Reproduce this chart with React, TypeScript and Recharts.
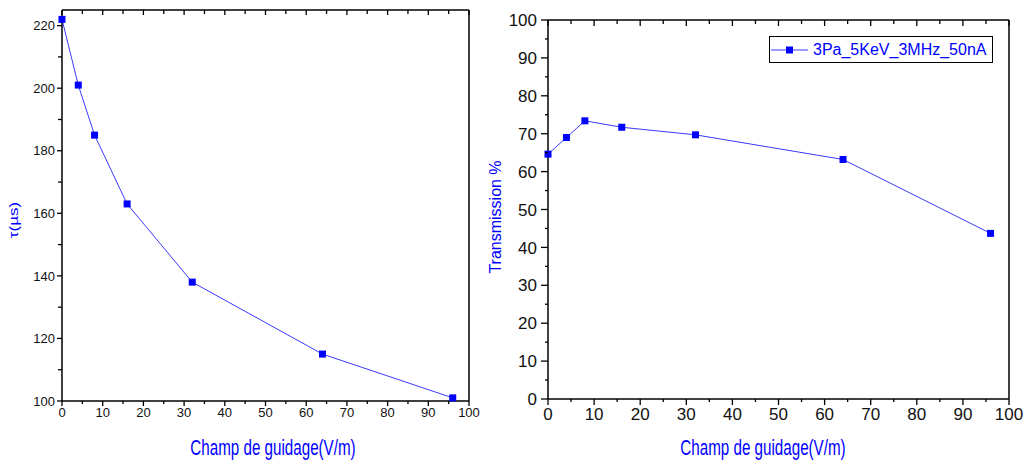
import React from "react";
import { LineChart, Line, XAxis, YAxis, Legend, Label } from "recharts";

// guiding field (V/m) and the two measured quantities
const fields = [0, 4, 8, 16, 32, 64, 96];
const tau = [222, 201, 185, 163, 138, 115, 101];
const transmission = [64.6, 69.0, 73.4, 71.7, 69.7, 63.2, 43.7];

const xMajor = [0, 10, 20, 30, 40, 50, 60, 70, 80, 90, 100];
const xTicks = [0, 5, 10, 15, 20, 25, 30, 35, 40, 45, 50, 55, 60, 65, 70, 75, 80, 85, 90, 95, 100];
const tauMajor = [100, 120, 140, 160, 180, 200, 220];
const tauTicks = [100, 110, 120, 130, 140, 150, 160, 170, 180, 190, 200, 210, 220];
const transMajor = [0, 10, 20, 30, 40, 50, 60, 70, 80, 90, 100];
const transTicks = [0, 5, 10, 15, 20, 25, 30, 35, 40, 45, 50, 55, 60, 65, 70, 75, 80, 85, 90, 95, 100];

const seriesName = "3Pa_5KeV_3MHz_50nA";

const data = fields.map((x, i) => ({ x, tau: tau[i], transmission: transmission[i] }));

const FONT = '"Liberation Sans", Arial, sans-serif';
const BLUE = "#0000ff";
const LINE_BLUE = "#3a3aff";

type Side = "bottom" | "left" | "top" | "right";

function makeTick(
  side: Side,
  majors: number[],
  majorLen: number,
  minorLen: number,
  fontSize = 13,
  gap = 2,
  show = false
) {
  return (props: any) => {
    const { x, y, payload } = props;
    const v = payload.value;
    const isMajor = majors.includes(v);
    const len = isMajor ? majorLen : minorLen;
    let x2 = x;
    let y2 = y;
    let label = null;
    if (side === "bottom") {
      y2 = y + len;
      if (show && isMajor)
        label = (
          <text x={x} y={y + majorLen + gap + fontSize * 0.72} textAnchor="middle" fontSize={fontSize} fill="#111" fontFamily={FONT}>
            {v}
          </text>
        );
    } else if (side === "left") {
      x2 = x - len;
      if (show && isMajor)
        label = (
          <text x={x - majorLen - gap} y={y + fontSize * 0.36} textAnchor="end" fontSize={fontSize} fill="#111" fontFamily={FONT}>
            {v}
          </text>
        );
    } else if (side === "top") {
      y2 = y + len; // inward
    } else {
      x2 = x - len; // inward
    }
    return (
      <g>
        <line x1={x} y1={y} x2={x2} y2={y2} stroke="#000" strokeWidth={1.3} />
        {label}
      </g>
    );
  };
}

const Square = (props: any) => {
  const { cx, cy, index } = props;
  if (cx == null || cy == null) return <g key={index} />;
  return <rect key={index} x={cx - 3.5} y={cy - 3.5} width={7} height={7} fill={BLUE} />;
};

const xTitle = (dx: number) => (props: any) => {
  const vb = props.viewBox || { x: 0, y: 0, width: 0, height: 0 };
  const cx = vb.x + vb.width / 2 + dx;
  const by = vb.y + vb.height - 9;
  return (
    <text
      transform={`translate(${cx},${by}) scale(0.69,1)`}
      textAnchor="middle"
      fontSize={22}
      fill={BLUE}
      fontFamily={FONT}
    >
      Champ de guidage(V/m)
    </text>
  );
};

const yTitle = (text: string, dx: number, dy: number, fontSize: number, squeeze: number) => (props: any) => {
  const vb = props.viewBox || { x: 0, y: 0, width: 0, height: 0 };
  const cx = vb.x + dx;
  const cy = vb.y + vb.height / 2 + dy;
  return (
    <text
      transform={`translate(${cx},${cy}) rotate(-90) scale(1,${squeeze})`}
      textAnchor="middle"
      dominantBaseline="central"
      fontSize={fontSize}
      fill={BLUE}
      fontFamily={FONT}
    >
      {text}
    </text>
  );
};

const LegendBox = () => (
  <div
    style={{
      border: "1px solid #000",
      background: "#fff",
      width: 222,
      height: 25,
      display: "flex",
      alignItems: "center",
      fontFamily: FONT,
      fontSize: 16,
      color: BLUE,
      boxSizing: "content-box",
    }}
  >
    <svg width={40} height={25} style={{ display: "block" }}>
      <line x1={1} y1={13} x2={38} y2={13} stroke={LINE_BLUE} strokeWidth={1.2} />
      <rect x={16} y={9.5} width={7} height={7} fill={BLUE} />
    </svg>
    <span style={{ marginLeft: 3, whiteSpace: "nowrap" }}>{seriesName}</span>
  </div>
);

const axisLine = { stroke: "#000", strokeWidth: 1.5 };

export default function App() {
  return (
    <div style={{ position: "absolute", left: 0, top: 0, width: 1024, height: 464, background: "#fff" }}>
      {/* left panel: tau vs field */}
      <div style={{ position: "absolute", left: 0, top: 0 }}>
        <LineChart width={512} height={464} data={data} margin={{ top: 9, right: 42, bottom: 0, left: 0 }}>
          <XAxis
            xAxisId="b"
            type="number"
            dataKey="x"
            domain={[0, 100]}
            ticks={xTicks}
            interval={0}
            height={63}
            tickSize={0}
            tickMargin={0}
            tickLine={false}
            axisLine={axisLine}
            tick={makeTick("bottom", xMajor, 5, 3, 13, 2, true)}
          >
            <Label content={xTitle(7.5)} />
          </XAxis>
          <XAxis
            xAxisId="t"
            orientation="top"
            type="number"
            dataKey="x"
            domain={[0, 100]}
            ticks={xTicks}
            interval={0}
            height={1}
            tickSize={0}
            tickMargin={0}
            tickLine={false}
            axisLine={axisLine}
            tick={makeTick("top", xMajor, 5, 4)}
          />
          <YAxis
            yAxisId="l"
            type="number"
            domain={[100, 225]}
            ticks={tauTicks}
            interval={0}
            width={62}
            tickSize={0}
            tickMargin={0}
            tickLine={false}
            axisLine={axisLine}
            tick={makeTick("left", tauMajor, 5, 4, 13, 2, true)}
          >
            <Label content={yTitle("τ(µs)", 14, 14.5, 17, 0.7)} />
          </YAxis>
          <YAxis
            yAxisId="r"
            orientation="right"
            type="number"
            domain={[100, 225]}
            ticks={tauTicks}
            interval={0}
            width={1}
            tickSize={0}
            tickMargin={0}
            tickLine={false}
            axisLine={axisLine}
            tick={makeTick("right", tauMajor, 5, 4)}
          />
          <Line
            xAxisId="b"
            yAxisId="l"
            type="linear"
            dataKey="tau"
            stroke={LINE_BLUE}
            strokeWidth={1}
            dot={Square}
            activeDot={false}
            isAnimationActive={false}
          />
        </LineChart>
      </div>

      {/* right panel: transmission vs field */}
      <div style={{ position: "absolute", left: 470, top: 0 }}>
        <LineChart width={554} height={464} data={data} margin={{ top: 19, right: 14, bottom: 0, left: 0 }}>
          <XAxis
            xAxisId="b"
            type="number"
            dataKey="x"
            domain={[0, 100]}
            ticks={xTicks}
            interval={0}
            height={65}
            tickSize={0}
            tickMargin={0}
            tickLine={false}
            axisLine={axisLine}
            tick={makeTick("bottom", xMajor, 6, 3, 17, 3, true)}
          >
            <Label content={xTitle(-15.5)} />
          </XAxis>
          <XAxis
            xAxisId="t"
            orientation="top"
            type="number"
            dataKey="x"
            domain={[0, 100]}
            ticks={xTicks}
            interval={0}
            height={1}
            tickSize={0}
            tickMargin={0}
            tickLine={false}
            axisLine={axisLine}
            tick={makeTick("top", xMajor, 6, 4)}
          />
          <YAxis
            yAxisId="l"
            type="number"
            domain={[0, 100]}
            ticks={transTicks}
            interval={0}
            width={78}
            tickSize={0}
            tickMargin={0}
            tickLine={false}
            axisLine={axisLine}
            tick={makeTick("left", transMajor, 7, 3, 17, 4, true)}
          >
            <Label content={yTitle("Transmission %", 25, 7.5, 16, 1)} />
          </YAxis>
          <YAxis
            yAxisId="r"
            orientation="right"
            type="number"
            domain={[0, 100]}
            ticks={transTicks}
            interval={0}
            width={1}
            tickSize={0}
            tickMargin={0}
            tickLine={false}
            axisLine={axisLine}
            tick={makeTick("right", transMajor, 6, 4)}
          />
          <Legend
            layout="horizontal"
            verticalAlign="middle"
            align="center"
            content={LegendBox}
            wrapperStyle={{ position: "absolute", left: 299, top: 36, width: "auto", height: "auto" }}
          />
          <Line
            xAxisId="b"
            yAxisId="l"
            type="linear"
            dataKey="transmission"
            name={seriesName}
            stroke={LINE_BLUE}
            strokeWidth={1}
            dot={Square}
            activeDot={false}
            isAnimationActive={false}
          />
        </LineChart>
      </div>
    </div>
  );
}
